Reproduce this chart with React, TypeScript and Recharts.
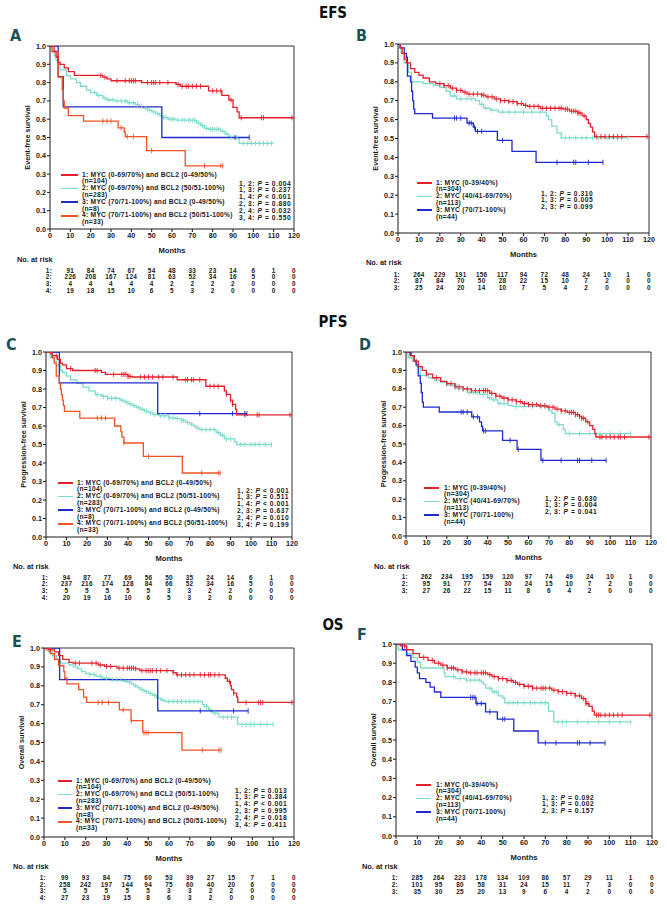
import React from "react";
import { ComposedChart, Line, Scatter, XAxis, YAxis, ReferenceLine } from "recharts";

const RED = "#e3202b";
const CYAN = "#7ddccc";
const BLUE = "#1f2bcc";
const ORANGE = "#f05323";
const INK = "#1a1a1a";
const TEAL = "#1a5254";

const FONT = "'Liberation Sans', Arial, sans-serif";
const NARROW = "'Liberation Sans Narrow', 'Arial Narrow', 'DejaVu Sans Condensed', sans-serif";

type Pt = [number, number];

const monthTicks = [0, 10, 20, 30, 40, 50, 60, 70, 80, 90, 100, 110, 120];
const survTicks = [0, 0.1, 0.2, 0.3, 0.4, 0.5, 0.6, 0.7, 0.8, 0.9, 1.0];
const riskMonths = [10, 20, 30, 40, 50, 60, 70, 80, 90, 100, 110, 120];

// ---- EFS, MYC/BCL2 groups (A)
const efsA1: Pt[] = [[0, 1], [2, 0.97], [3, 0.94], [4, 0.91], [5, 0.9], [7, 0.88], [9, 0.86], [12, 0.84], [26, 0.83], [28, 0.82], [30, 0.81], [45, 0.8], [62, 0.79], [64, 0.78], [78, 0.755], [84.5, 0.73], [88, 0.705], [90, 0.665], [92, 0.64], [93, 0.608], [120, 0.608]];
const efsA1Cens = [25, 27, 33, 37, 39, 40, 41, 42, 48, 50, 51, 52, 54, 58, 63, 65, 67, 68, 70, 72, 74, 80, 82, 84, 89, 94, 104, 105, 119];
const efsA2: Pt[] = [[0, 1], [1, 0.97], [2, 0.95], [3, 0.92], [4, 0.9], [5, 0.87], [8, 0.84], [10, 0.82], [13, 0.8], [15, 0.78], [18, 0.76], [20, 0.745], [23, 0.73], [26, 0.715], [28, 0.705], [32, 0.7], [38, 0.69], [42, 0.68], [44, 0.67], [46, 0.66], [48, 0.65], [50, 0.64], [52, 0.63], [54, 0.62], [55, 0.61], [58, 0.6], [62, 0.595], [72, 0.58], [74, 0.565], [76, 0.55], [78, 0.545], [84, 0.535], [86, 0.52], [88, 0.5], [93, 0.468], [110, 0.468]];
const efsA2Cens = [22, 24, 27, 29, 31, 33, 35, 37, 39, 41, 43, 45, 47, 49, 51, 53, 56, 57, 59, 60, 61, 63, 65, 66, 68, 69, 70, 71, 73, 75, 77, 79, 80, 81, 82, 83, 85, 87, 89, 92, 95, 97, 99, 101, 103, 105, 107, 109];
const efsA3: Pt[] = [[0, 1], [4, 0.833], [6.5, 0.667], [55, 0.5], [98, 0.5]];
const efsA3Cens = [91, 98];
const efsA4: Pt[] = [[0, 1], [1, 0.97], [4, 0.83], [6, 0.76], [6.5, 0.7], [7, 0.66], [9, 0.62], [16.5, 0.59], [33.5, 0.553], [36.5, 0.53], [37, 0.505], [47.5, 0.428], [66.5, 0.345], [85, 0.345]];
const efsA4Cens = [26, 28, 30, 35, 38, 41, 50, 76, 84, 85];
const riskA = [
  [91, 84, 74, 67, 54, 48, 33, 23, 14, 6, 1, 0],
  [226, 208, 167, 124, 81, 63, 52, 34, 16, 5, 0, 0],
  [4, 4, 4, 4, 4, 2, 2, 2, 2, 0, 0, 0],
  [19, 18, 15, 10, 6, 5, 3, 2, 0, 0, 0, 0],
];
const pvalsA = [["1, 2:", "= 0.004"], ["1, 3:", "= 0.237"], ["1, 4:", "< 0.001"], ["2, 3:", "= 0.880"], ["2, 4:", "= 0.032"], ["3, 4:", "= 0.550"]];

// ---- EFS, MYC groups (B)
const efsB1: Pt[] = [[0, 1], [1, 0.98], [2, 0.95], [3, 0.92], [4, 0.9], [6, 0.87], [8, 0.85], [10, 0.835], [12, 0.82], [15, 0.8], [18, 0.79], [22, 0.78], [25, 0.767], [28, 0.755], [31, 0.745], [33, 0.735], [40, 0.73], [42, 0.72], [46, 0.71], [49, 0.7], [53, 0.695], [57, 0.685], [60, 0.675], [62, 0.67], [68, 0.66], [79, 0.655], [82, 0.645], [86, 0.635], [88, 0.62], [90, 0.6], [91, 0.58], [92, 0.56], [93, 0.535], [94, 0.51], [120, 0.51]];
const efsB1Cens = [20, 22, 24, 26, 28, 30, 32, 34, 36, 38, 40, 41, 43, 45, 47, 49, 51, 53, 55, 57, 59, 61, 63, 65, 67, 69, 71, 73, 75, 77, 78, 80, 81, 83, 84, 85, 86, 87, 89, 95, 97, 99, 101, 103, 105, 107, 119];
const efsB2: Pt[] = [[0, 1], [1.5, 0.95], [3, 0.9], [5, 0.85], [6.5, 0.8], [12, 0.79], [17, 0.78], [20, 0.77], [23, 0.75], [25, 0.725], [28, 0.71], [37, 0.7], [39, 0.68], [41, 0.66], [44, 0.65], [48, 0.64], [71, 0.62], [72, 0.6], [73.5, 0.565], [76, 0.53], [78, 0.503], [110, 0.503]];
const efsB2Cens = [27, 30, 33, 35, 40, 42, 45, 50, 53, 56, 60, 64, 68, 80, 82, 85, 88, 90, 93, 96, 100, 105, 110];
const efsB3: Pt[] = [[0, 1], [1, 0.98], [3, 0.95], [4, 0.93], [4.5, 0.83], [6, 0.8], [6.5, 0.75], [7, 0.7], [7.5, 0.655], [8, 0.632], [16.5, 0.608], [33, 0.582], [36, 0.56], [37, 0.538], [47.5, 0.49], [54.5, 0.432], [66, 0.374], [98, 0.374]];
const efsB3Cens = [27, 28, 30, 34, 35, 36.5, 38, 40, 50, 76, 84, 85, 91, 98];
const riskB = [
  [264, 229, 191, 156, 117, 94, 72, 48, 24, 10, 1, 0],
  [87, 84, 70, 50, 28, 22, 15, 10, 7, 2, 0, 0],
  [25, 24, 20, 14, 10, 7, 5, 4, 2, 0, 0, 0],
];
const pvalsB = [["1, 2:", "= 0.310"], ["1, 3:", "= 0.005"], ["2, 3:", "= 0.099"]];

// ---- PFS, MYC/BCL2 groups (C)
const pfsC1: Pt[] = [[0, 1], [3, 0.98], [5.5, 0.96], [7, 0.94], [8, 0.93], [10, 0.91], [13, 0.9], [27, 0.89], [29, 0.879], [40, 0.868], [42, 0.865], [64, 0.85], [78, 0.815], [87, 0.79], [88, 0.771], [90, 0.74], [91, 0.717], [92.5, 0.69], [93, 0.66], [120, 0.66]];
const pfsC1Cens = [2, 3, 5, 12, 24, 25, 33, 37, 38, 39, 40, 41, 46, 48, 50, 52, 55, 57, 62, 68, 69, 71, 72, 75, 80, 82, 84, 88, 90, 91, 97, 103, 104, 119];
const pfsC2: Pt[] = [[0, 1], [2, 0.97], [4, 0.95], [5, 0.93], [7, 0.9], [8, 0.89], [10, 0.87], [12, 0.85], [15, 0.83], [18, 0.81], [21, 0.79], [24, 0.77], [27, 0.76], [30, 0.75], [36, 0.74], [38, 0.73], [40, 0.72], [42, 0.71], [44, 0.7], [46, 0.69], [48, 0.68], [50, 0.672], [52, 0.663], [55, 0.655], [60, 0.645], [63, 0.64], [66, 0.63], [68, 0.62], [70, 0.61], [72, 0.6], [73, 0.59], [75, 0.58], [83, 0.565], [85, 0.55], [87, 0.53], [92, 0.515], [93, 0.5], [110, 0.5]];
const pfsC2Cens = [25, 28, 30, 32, 34, 37, 39, 41, 43, 45, 47, 49, 51, 53, 56, 58, 60, 62, 64, 66, 67, 69, 71, 74, 76, 78, 80, 82, 84, 86, 88, 90, 95, 97, 100, 102, 104, 107, 110];
const pfsC3: Pt[] = [[0, 1], [6.5, 0.833], [54.5, 0.667], [98, 0.667]];
const pfsC3Cens = [75, 91, 97, 98];
const pfsC4: Pt[] = [[0, 1], [3, 0.97], [4, 0.94], [5, 0.87], [6.5, 0.83], [7, 0.8], [7.5, 0.77], [8, 0.74], [8.5, 0.71], [9, 0.679], [16.5, 0.643], [33.5, 0.6], [36.5, 0.57], [37, 0.54], [38, 0.508], [47.5, 0.436], [66.5, 0.346], [85, 0.346]];
const pfsC4Cens = [25, 27, 29, 38, 50, 76, 84, 85];
const riskC = [
  [94, 87, 77, 69, 56, 50, 35, 24, 14, 6, 1, 0],
  [237, 216, 174, 128, 84, 66, 52, 34, 16, 5, 0, 0],
  [5, 5, 5, 5, 5, 3, 3, 2, 2, 0, 0, 0],
  [20, 19, 16, 10, 6, 5, 3, 2, 0, 0, 0, 0],
];
const pvalsC = [["1, 2:", "< 0.001"], ["1, 3:", "= 0.511"], ["1, 4:", "< 0.001"], ["2, 3:", "= 0.637"], ["2, 4:", "= 0.010"], ["3, 4:", "= 0.199"]];

// ---- PFS, MYC groups (D)
const pfsD1: Pt[] = [[0, 1], [2, 0.98], [4, 0.95], [6, 0.92], [8, 0.9], [10, 0.88], [13, 0.86], [17, 0.84], [20, 0.828], [24, 0.81], [28, 0.8], [32, 0.79], [41, 0.775], [44, 0.76], [47, 0.75], [50, 0.74], [54, 0.73], [57, 0.72], [60, 0.714], [65, 0.708], [69, 0.7], [73, 0.69], [76, 0.68], [79, 0.672], [83, 0.66], [85, 0.65], [86, 0.64], [88, 0.62], [90, 0.6], [91.5, 0.58], [92.5, 0.555], [93, 0.538], [120, 0.538]];
const pfsD1Cens = [5, 10, 15, 20, 22, 24, 26, 28, 30, 32, 34, 36, 38, 39, 40, 42, 44, 46, 48, 50, 52, 54, 56, 58, 60, 62, 64, 66, 68, 70, 72, 74, 76, 78, 80, 81, 82, 83, 84, 85, 86, 87, 89, 95, 96, 98, 100, 102, 104, 105, 107, 119];
const pfsD2: Pt[] = [[0, 1], [1, 0.97], [3, 0.95], [5, 0.92], [7, 0.873], [11, 0.86], [14, 0.845], [17, 0.835], [20, 0.82], [25, 0.8], [30, 0.78], [36, 0.77], [40, 0.75], [42, 0.74], [45, 0.72], [50, 0.71], [52, 0.705], [70, 0.68], [71.5, 0.667], [73, 0.62], [74, 0.605], [77, 0.58], [78, 0.556], [110, 0.556]];
const pfsD2Cens = [23, 26, 28, 31, 33, 35, 38, 41, 43, 46, 48, 54, 58, 62, 66, 68, 75, 80, 85, 90, 95, 100, 105, 110];
const pfsD3: Pt[] = [[0, 1], [2.5, 0.98], [4, 0.95], [5, 0.93], [6, 0.87], [7, 0.83], [7.5, 0.78], [8, 0.728], [8.5, 0.7], [16.3, 0.674], [32.2, 0.647], [36, 0.62], [37, 0.595], [37.5, 0.571], [47.3, 0.52], [54.4, 0.471], [66.1, 0.411], [98, 0.411]];
const pfsD3Cens = [2, 27, 28, 30, 33, 35, 38, 39, 51, 55, 67, 76, 84, 85, 91, 98];
const riskD = [
  [262, 234, 195, 159, 120, 97, 74, 49, 24, 10, 1, 0],
  [95, 91, 77, 54, 30, 24, 15, 10, 7, 2, 0, 0],
  [27, 26, 22, 15, 11, 8, 6, 4, 2, 0, 0, 0],
];
const pvalsD = [["1, 2:", "= 0.630"], ["1, 3:", "= 0.004"], ["2, 3:", "= 0.041"]];

// ---- OS, MYC/BCL2 groups (E)
const osE1: Pt[] = [[0, 1], [2, 0.99], [5, 0.98], [7, 0.96], [9, 0.94], [12, 0.924], [14, 0.92], [26, 0.91], [29, 0.903], [35, 0.894], [44, 0.89], [46, 0.88], [62, 0.87], [63.5, 0.858], [87, 0.84], [88, 0.823], [89.5, 0.8], [90, 0.78], [91, 0.761], [92.5, 0.74], [93, 0.712], [120, 0.712]];
const osE1Cens = [1, 3, 15, 17, 23, 25, 27, 30, 32, 36, 38, 40, 41, 42, 43, 44, 47, 49, 50, 51, 52, 54, 56, 59, 62, 64, 66, 68, 70, 72, 75, 77, 79, 80, 82, 84, 89, 91, 97, 103, 104, 105, 119];
const osE2: Pt[] = [[0, 1], [2, 0.98], [4, 0.96], [6, 0.94], [8, 0.92], [12, 0.91], [14, 0.9], [16, 0.89], [18, 0.875], [20, 0.865], [22, 0.86], [25, 0.85], [28, 0.84], [32, 0.832], [38, 0.825], [40, 0.82], [42, 0.81], [43, 0.8], [45, 0.79], [46, 0.78], [48, 0.77], [50, 0.76], [52, 0.75], [54, 0.735], [56, 0.725], [58, 0.717], [76, 0.7], [77, 0.69], [79, 0.675], [80, 0.664], [81, 0.655], [84, 0.634], [93, 0.596], [110, 0.596]];
const osE2Cens = [22, 24, 27, 30, 33, 35, 37, 39, 41, 44, 47, 49, 51, 53, 57, 60, 62, 64, 66, 68, 70, 72, 74, 78, 82, 86, 88, 90, 95, 97, 99, 101, 104, 107, 110];
const osE3: Pt[] = [[0, 1], [7.5, 0.833], [54.6, 0.667], [98, 0.667]];
const osE3Cens = [75, 91, 98];
const osE4: Pt[] = [[0, 1], [3, 0.97], [5, 0.94], [7, 0.906], [9.5, 0.875], [10, 0.84], [11, 0.81], [16.6, 0.78], [19, 0.74], [20.5, 0.712], [36.2, 0.673], [41.8, 0.616], [47.4, 0.552], [66.2, 0.46], [85, 0.46]];
const osE4Cens = [26, 28, 31, 38, 42, 48, 49, 50, 76, 84, 85];
const riskE = [
  [99, 93, 84, 75, 60, 53, 39, 27, 15, 7, 1, 0],
  [258, 242, 197, 144, 94, 75, 60, 40, 20, 6, 0, 0],
  [5, 5, 5, 5, 5, 3, 3, 2, 2, 0, 0, 0],
  [27, 23, 19, 15, 8, 6, 3, 2, 0, 0, 0, 0],
];
const pvalsE = [["1, 2:", "= 0.013"], ["1, 3:", "= 0.384"], ["1, 4:", "< 0.001"], ["2, 3:", "= 0.995"], ["2, 4:", "= 0.018"], ["3, 4:", "= 0.411"]];

// ---- OS, MYC groups (F)
const osF1: Pt[] = [[0, 1], [2, 0.99], [5, 0.97], [8, 0.95], [11, 0.93], [15, 0.915], [18, 0.9], [21, 0.89], [24, 0.875], [28, 0.865], [31, 0.855], [34, 0.85], [43, 0.84], [45, 0.83], [48, 0.82], [52, 0.81], [55, 0.8], [57, 0.79], [60, 0.78], [64, 0.77], [73, 0.76], [76, 0.752], [80, 0.743], [84, 0.73], [87, 0.715], [89, 0.69], [90.5, 0.675], [92, 0.65], [93, 0.63], [120, 0.63]];
const osF1Cens = [4, 13, 17, 20, 22, 24, 26, 27, 29, 31, 33, 35, 37, 38, 40, 41, 42, 44, 46, 48, 50, 52, 54, 56, 58, 60, 62, 64, 66, 68, 69, 70, 72, 74, 76, 78, 80, 82, 84, 86, 88, 89, 90, 94, 95, 96, 98, 100, 102, 104, 106, 119];
const osF2: Pt[] = [[0, 1], [1, 0.97], [5, 0.95], [8, 0.93], [10, 0.905], [11.5, 0.875], [22.5, 0.85], [23, 0.83], [28, 0.82], [33, 0.812], [40, 0.8], [41, 0.79], [42, 0.77], [45, 0.75], [48, 0.73], [50, 0.72], [51, 0.694], [71.5, 0.65], [74, 0.594], [110, 0.594]];
const osF2Cens = [27, 30, 33, 35, 37, 39, 44, 46, 47, 53, 55, 57, 60, 63, 65, 68, 70, 76, 78, 80, 85, 90, 95, 100, 105, 110];
const osF3: Pt[] = [[0, 1], [3, 0.97], [5, 0.94], [7, 0.91], [9, 0.88], [10, 0.85], [11, 0.82], [14, 0.8], [16, 0.775], [18, 0.75], [21, 0.722], [37.5, 0.69], [42, 0.647], [47.5, 0.609], [55.2, 0.547], [66.6, 0.485], [98, 0.485]];
const osF3Cens = [35, 36, 37, 38, 40, 44, 50, 51, 70, 75, 85, 86, 91, 98];
const riskF = [
  [285, 264, 223, 178, 134, 109, 86, 57, 29, 11, 1, 0],
  [101, 95, 80, 58, 31, 24, 15, 11, 7, 3, 0, 0],
  [35, 30, 25, 20, 13, 9, 6, 4, 2, 0, 0, 0],
];
const pvalsF = [["1, 2:", "= 0.092"], ["1, 3:", "= 0.002"], ["2, 3:", "= 0.157"]];

const legend4 = [
  ["1: MYC (0-69/70%) and BCL2 (0-49/50%)", "(n=104)"],
  ["2: MYC (0-69/70%) and BCL2 (50/51-100%)", "(n=283)"],
  ["3: MYC (70/71-100%) and BCL2 (0-49/50%)", "(n=8)"],
  ["4: MYC (70/71-100%) and BCL2 (50/51-100%)", "(n=33)"],
];
const legend3 = [
  ["1: MYC (0-39/40%)", "(n=304)"],
  ["2: MYC (40/41-69/70%)", "(n=113)"],
  ["3: MYC (70/71-100%)", "(n=44)"],
];
const colors4 = [RED, CYAN, BLUE, ORANGE];
const colors3 = [RED, CYAN, BLUE];

const stepAt = (curve: Pt[], t: number) => {
  let v = curve[0][1];
  for (const [x, s] of curve) if (x <= t) v = s;
  return v;
};

interface Series { color: string; curve: Pt[]; cens: number[] }
interface PanelCfg {
  letter: string; letterX: number; letterY: number;
  plot: { x: number; y: number; w: number; h: number };
  yLabel: string;
  series: Series[];
  legend: string[][]; colors: string[];
  leg: { sx: number; sw: number; tx: number; y: number };
  pvals: string[][]; pv: { x: number; y: number };
  risk: number[][]; noRisk: { x: number; y: number }; rowY: number[];
}

const mk = (curves: Pt[][], cens: number[][], colors: string[]): Series[] =>
  curves.map((c, i) => ({ color: colors[i], curve: c, cens: cens[i] }));

const panels: PanelCfg[] = [
  {
    letter: "A", letterX: 16, letterY: 36, plot: { x: 50, y: 46, w: 244, h: 183 }, yLabel: "Event-free survival",
    series: mk([efsA1, efsA2, efsA3, efsA4], [efsA1Cens, efsA2Cens, efsA3Cens, efsA4Cens], colors4),
    legend: legend4, colors: colors4, leg: { sx: 61, sw: 17, tx: 82, y: 175 },
    pvals: pvalsA, pv: { x: 239, y: 184 },
    risk: riskA, noRisk: { x: 17, y: 260 }, rowY: [270.7, 277.5, 284.3, 291],
  },
  {
    letter: "B", letterX: 362, letterY: 36, plot: { x: 398, y: 44, w: 251, h: 189 }, yLabel: "Event-free survival",
    series: mk([efsB1, efsB2, efsB3], [efsB1Cens, efsB2Cens, efsB3Cens], colors3),
    legend: legend3, colors: colors3, leg: { sx: 417, sw: 15, tx: 436, y: 183 },
    pvals: pvalsB, pv: { x: 541, y: 194 },
    risk: riskB, noRisk: { x: 366, y: 263 }, rowY: [275, 281.6, 288.2],
  },
  {
    letter: "C", letterX: 12, letterY: 345, plot: { x: 46, y: 352, w: 246, h: 185 }, yLabel: "Progression-free survival",
    series: mk([pfsC1, pfsC2, pfsC3, pfsC4], [pfsC1Cens, pfsC2Cens, pfsC3Cens, pfsC4Cens], colors4),
    legend: legend4, colors: colors4, leg: { sx: 58, sw: 15, tx: 77, y: 483 },
    pvals: pvalsC, pv: { x: 237, y: 491 },
    risk: riskC, noRisk: { x: 13, y: 567 }, rowY: [578, 584.6, 591.2, 597.8],
  },
  {
    letter: "D", letterX: 365, letterY: 345, plot: { x: 406, y: 352, w: 245, h: 184 }, yLabel: "Progression-free survival",
    series: mk([pfsD1, pfsD2, pfsD3], [pfsD1Cens, pfsD2Cens, pfsD3Cens], colors3),
    legend: legend3, colors: colors3, leg: { sx: 424, sw: 15, tx: 444, y: 488 },
    pvals: pvalsD, pv: { x: 545, y: 499 },
    risk: riskD, noRisk: { x: 374, y: 567 }, rowY: [577.5, 584.1, 590.7],
  },
  {
    letter: "E", letterX: 18, letterY: 642, plot: { x: 44, y: 648, w: 250, h: 189 }, yLabel: "Overall survival",
    series: mk([osE1, osE2, osE3, osE4], [osE1Cens, osE2Cens, osE3Cens, osE4Cens], colors4),
    legend: legend4, colors: colors4, leg: { sx: 58, sw: 14, tx: 76, y: 781 },
    pvals: pvalsE, pv: { x: 235, y: 791 },
    risk: riskE, noRisk: { x: 13, y: 867 }, rowY: [878.3, 884.9, 891.5, 898.1],
  },
  {
    letter: "F", letterX: 363, letterY: 635, plot: { x: 396, y: 644, w: 256, h: 192 }, yLabel: "Overall survival",
    series: mk([osF1, osF2, osF3], [osF1Cens, osF2Cens, osF3Cens], colors3),
    legend: legend3, colors: colors3, leg: { sx: 416, sw: 15, tx: 436, y: 785 },
    pvals: pvalsF, pv: { x: 542, y: 798 },
    risk: riskF, noRisk: { x: 362, y: 867 }, rowY: [878.5, 885.5, 892.5],
  },
];

const titles = [
  { text: "EFS", y: 13 },
  { text: "PFS", y: 322 },
  { text: "OS", y: 625 },
];

const censorShape = (color: string) => (p: any) =>
  p.cx == null ? <g /> : (
    <line x1={p.cx} x2={p.cx} y1={p.cy - 2.6} y2={p.cy + 2.6} stroke={color} strokeWidth={0.9} />
  );

const tickStyle = { fontSize: 7.2, fontWeight: 700, fill: INK, fontFamily: FONT };
const LH = 6.8; // legend / p-value line pitch
const RH = 6.4; // risk row text box height

const abs = (left: number, top: number, extra: React.CSSProperties = {}): React.CSSProperties => ({
  position: "absolute", left, top, whiteSpace: "nowrap", ...extra,
});

const Panel = ({ cfg }: { cfg: PanelCfg }) => {
  const { x, y, w, h } = cfg.plot;
  const YW = 40, TOP = 8, RIGHT = 6, XH = 28;
  // draw cyan first, red last
  const order = cfg.series.length === 4 ? [1, 2, 3, 0] : [1, 2, 0];
  const colX = (t: number) => x + (w * t) / 120;
  const riskText: React.CSSProperties = { fontSize: 6.4, letterSpacing: 0.3, fontWeight: 700, lineHeight: `${RH}px`, height: RH, color: INK };
  const smallText: React.CSSProperties = { fontSize: 6.7, fontWeight: 700, lineHeight: `${LH}px`, color: INK };
  return (
    <>
      <div style={abs(x - YW, y - TOP)}>
        <ComposedChart width={w + YW + RIGHT} height={h + TOP + XH} margin={{ top: TOP, right: RIGHT, left: 0, bottom: 0 }}>
          <XAxis
            type="number" dataKey="t" domain={[0, 120]} ticks={monthTicks} interval={0}
            allowDataOverflow height={XH} tickSize={3} tickMargin={1}
            stroke={INK} tick={tickStyle}
            label={{ value: "Months", position: "insideBottom", offset: 4, style: { fontSize: 7.6, fontWeight: 700, fill: INK, fontFamily: FONT } }}
          />
          <YAxis
            type="number" dataKey="s" domain={[0, 1]} ticks={survTicks} interval={0}
            allowDataOverflow width={YW} tickSize={3} tickMargin={1}
            stroke={INK} tick={tickStyle} tickFormatter={(v: number) => v.toFixed(1)}
            label={{ value: cfg.yLabel, angle: -90, position: "center", dx: -3, style: { fontSize: 7.2, fontWeight: 700, fill: INK, fontFamily: FONT, textAnchor: "middle" } }}
          />
          <ReferenceLine y={1} stroke="#333" strokeWidth={1} />
          <ReferenceLine x={120} stroke="#333" strokeWidth={1} />
          {order.map((i) => {
            const s = cfg.series[i];
            return (
              <Line
                key={`l${i}`} data={s.curve.map(([t, v]) => ({ t, s: v }))} dataKey="s" type="stepAfter"
                stroke={s.color} strokeWidth={1.3} dot={false} activeDot={false} isAnimationActive={false}
              />
            );
          })}
          {order.map((i) => {
            const s = cfg.series[i];
            return (
              <Scatter
                key={`c${i}`} data={s.cens.map((t) => ({ t, s: stepAt(s.curve, t) }))}
                shape={censorShape(s.color)} isAnimationActive={false}
              />
            );
          })}
        </ComposedChart>
      </div>

      <div style={abs(cfg.letterX - 6, cfg.letterY - 10, { fontFamily: NARROW, fontWeight: 700, fontSize: 16, lineHeight: "20px", color: TEAL })}>
        {cfg.letter}
      </div>

      {cfg.legend.map((entry, i) => (
        <React.Fragment key={`lg${i}`}>
          <div style={abs(cfg.leg.sx, cfg.leg.y + i * 2 * LH - 0.8, { width: cfg.leg.sw, height: 1.6, background: cfg.colors[i] })} />
          <div style={abs(cfg.leg.tx, cfg.leg.y + i * 2 * LH - LH / 2, { ...smallText, letterSpacing: 0.25 })}>
            {entry[0]}
            <br />
            {entry[1]}
          </div>
        </React.Fragment>
      ))}

      <div style={abs(cfg.pv.x, cfg.pv.y - LH / 2, { ...smallText, letterSpacing: 0.55 })}>
        {cfg.pvals.map((p, i) => (
          <div key={`pv${i}`}>
            {p[0]} <i>P</i> {p[1]}
          </div>
        ))}
      </div>

      <div style={abs(cfg.noRisk.x, cfg.noRisk.y - 4, { fontSize: 7.4, fontWeight: 700, lineHeight: "8px", color: INK })}>No. at risk</div>
      {cfg.risk.map((row, r) => (
        <React.Fragment key={`rk${r}`}>
          <div style={abs(colX(0) - 10, cfg.rowY[r] - RH / 2, { width: 12, textAlign: "right", ...riskText })}>
            {r + 1}:
          </div>
          {row.map((v, c) => (
            <div key={c} style={abs(colX(riskMonths[c]) - 10, cfg.rowY[r] - RH / 2, { width: 20, textAlign: "center", ...riskText })}>
              {v}
            </div>
          ))}
        </React.Fragment>
      ))}
    </>
  );
};

export default function App() {
  return (
    <div style={{ position: "absolute", left: 0, top: 0, width: 667, height: 908, background: "#fff", fontFamily: FONT, overflow: "hidden" }}>
      {titles.map((t) => (
        <div key={t.text} style={abs(283, t.y - 10, { width: 100, textAlign: "center", fontFamily: NARROW, fontWeight: 700, fontSize: 15, lineHeight: "20px", color: "#111" })}>
          {t.text}
        </div>
      ))}
      {panels.map((p) => (
        <Panel key={p.letter} cfg={p} />
      ))}
    </div>
  );
}
